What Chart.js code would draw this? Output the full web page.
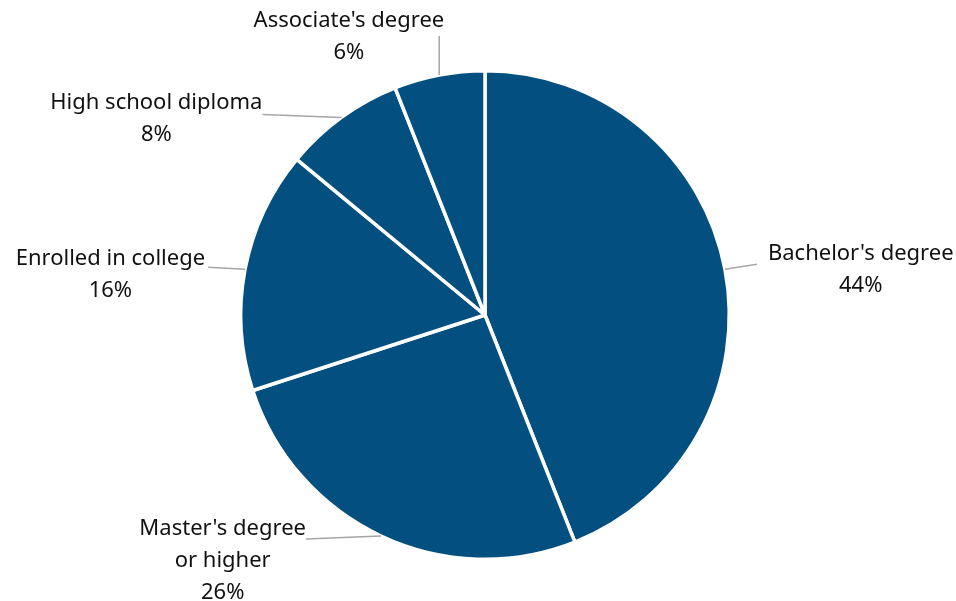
<!DOCTYPE html>
<html>
  <head>
    <title>Education</title>
    <script src="https://cdn.jsdelivr.net/npm/chart.js@4.4.0/dist/chart.umd.min.js"></script>
    <style>
      html,body{
        width: 100%;
        height: 100%;
        margin: 0;
        padding: 0;
        background: #fff;
        overflow: hidden;
      }
      #myChart{
        display: block;
      }
    </style>
  </head>
  <body>
    <canvas id="myChart" width="956" height="601"></canvas>

    <script>
      // data
      const categorias = [
        ["Bachelor's degree"],
        ["Master's degree", "or higher"],
        ["Enrolled in college"],
        ["High school diploma"],
        ["Associate's degree"]
      ]
      const valores = [44, 26, 16, 8, 6]

      // label placement (line end relative to the arc midpoint, text relative to line end)
      const rotulos = [
        {lx: 32, ly: -5, tx: 11, ty: -10, align: 'left'},
        {lx: -75, ly: 3, tx: 0, ty: -10, align: 'right'},
        {lx: -37, ly: -2, tx: -3, ty: -8, align: 'right'},
        {lx: -79, ly: -3, tx: 0, ty: -12, align: 'right'},
        {lx: 0, ly: -39, tx: 5, ty: -15, align: 'right'}
      ]

      const corFatia = '#034f7f'
      const corLinha = '#a6a6a6'
      const fonte = '22px "Noto Sans", "Open Sans", sans-serif'
      const alturaLinha = 32

      const pluginRotulos = {
        id: 'rotulos',
        afterDraw(chart){
          const ctx = chart.ctx
          const meta = chart.getDatasetMeta(0)
          ctx.save()
          ctx.font = fonte
          ctx.textBaseline = 'middle'
          meta.data.forEach((arc, i) => {
            const meio = (arc.startAngle + arc.endAngle) / 2
            const ax = arc.x + Math.cos(meio) * arc.outerRadius
            const ay = arc.y + Math.sin(meio) * arc.outerRadius
            const r = rotulos[i]
            const ex = ax + r.lx
            const ey = ay + r.ly

            ctx.strokeStyle = corLinha
            ctx.lineWidth = 1.5
            ctx.beginPath()
            ctx.moveTo(ax, ay)
            ctx.lineTo(ex, ey)
            ctx.stroke()

            const linhas = categorias[i].concat([valores[i] + '%'])
            const larg = Math.max(...linhas.map(l => ctx.measureText(l).width))
            let cx
            if(r.align === 'left'){
              cx = ex + r.tx + larg / 2
            }else{
              cx = ex + r.tx - larg / 2
            }
            ctx.fillStyle = '#111111'
            ctx.textAlign = 'center'
            linhas.forEach((l, k) => {
              ctx.fillText(l, cx, ey + r.ty + k * alturaLinha)
            })
          })
          ctx.restore()
        }
      }

      const ctx = document.getElementById('myChart').getContext('2d')
      const myChart = new Chart(ctx, {
        type: 'pie',
        data: {
          labels: categorias,
          datasets: [{
            data: valores,
            backgroundColor: corFatia,
            borderColor: '#ffffff',
            borderWidth: 3.5
          }]
        },
        options: {
          responsive: false,
          animation: false,
          layout: {
            padding: {top: 69, bottom: 40, left: 239, right: 225}
          },
          plugins: {
            legend: {display: false},
            tooltip: {enabled: false}
          }
        },
        plugins: [pluginRotulos]
      })
    </script>
  </body>
</html>
